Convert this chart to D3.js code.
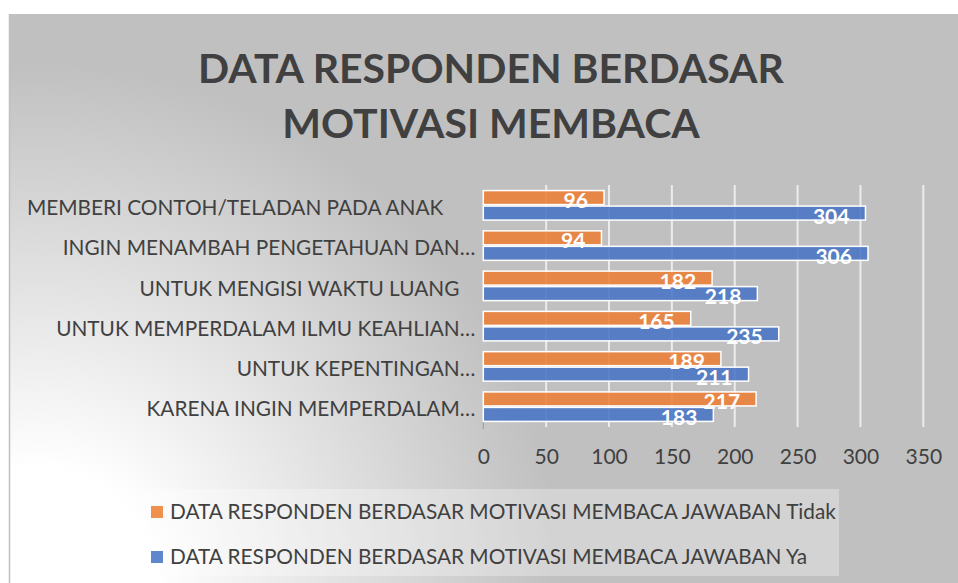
<!DOCTYPE html>
<html>
<head>
<meta charset="utf-8">
<script src="https://cdnjs.cloudflare.com/ajax/libs/d3/7.8.5/d3.min.js"></script>
<style>
  body { margin: 0; background: #fff; }
  svg { display: block; font-family: Lato, "Open Sans", sans-serif; }
</style>
</head>
<body>
<script>
// chart data
const categories = [
  'MEMBERI CONTOH/TELADAN PADA ANAK      ',
  'INGIN MENAMBAH PENGETAHUAN DAN\u2026',
  'UNTUK MENGISI WAKTU LUANG   ',
  'UNTUK MEMPERDALAM ILMU KEAHLIAN\u2026',
  'UNTUK KEPENTINGAN\u2026',
  'KARENA INGIN MEMPERDALAM\u2026'
];
const seriesNames = ['DATA RESPONDEN BERDASAR MOTIVASI MEMBACA JAWABAN Tidak',
                     'DATA RESPONDEN BERDASAR MOTIVASI MEMBACA JAWABAN Ya'];
const tidak = [96, 94, 182, 165, 189, 217];
const ya = [304, 306, 218, 235, 211, 183];
const xTicks = [0, 50, 100, 150, 200, 250, 300, 350];
const titleLines = ['DATA RESPONDEN BERDASAR', 'MOTIVASI MEMBACA'];
const colors = ['#ED7D31', '#4472C4'];

const w = 958, h = 583;
const svg = d3.select('body').append('svg').attr('width', w).attr('height', h);

// background like excel's path gradient
const defs = svg.append('defs');
const grad = defs.append('radialGradient').attr('id', 'bg')
  .attr('gradientUnits', 'userSpaceOnUse')
  .attr('cx', 40).attr('cy', 583).attr('r', 520);
grad.append('stop').attr('offset', 0).attr('stop-color', '#ffffff');
grad.append('stop').attr('offset', 0.22).attr('stop-color', '#ffffff');
grad.append('stop').attr('offset', 1).attr('stop-color', '#c0c0c0');

svg.append('rect').attr('x', 9).attr('y', 14).attr('width', w - 9).attr('height', h - 14)
  .attr('fill', 'url(#bg)');
svg.append('line').attr('x1', 9.5).attr('x2', 9.5).attr('y1', 14).attr('y2', h)
  .attr('stroke', '#bfbfbf').attr('stroke-width', 1.5);

// title
svg.append('g').selectAll('text').data(titleLines).enter().append('text')
  .attr('x', 491).attr('y', (d, i) => 83 + i * 55)
  .attr('text-anchor', 'middle')
  .attr('font-size', 41).attr('font-weight', 'bold').attr('fill', '#404040')
  .text(d => d);

// scales
const x = d3.scaleLinear().domain([0, 350]).range([483.3, 923.3]);
const y = d3.scaleBand().domain(categories).range([185, 427]).paddingInner(0.23).paddingOuter(0.12);
const ys = d3.scaleBand().domain([0, 1]).range([0, y.bandwidth()]);

// gridlines
svg.append('g').selectAll('line').data(xTicks.slice(1)).enter().append('line')
  .attr('x1', d => x(d)).attr('x2', d => x(d)).attr('y1', 185).attr('y2', 427)
  .attr('stroke', '#ececec').attr('stroke-width', 2);
svg.append('line').attr('x1', x(0)).attr('x2', x(0)).attr('y1', 422).attr('y2', 429)
  .attr('stroke', '#999').attr('stroke-width', 1);

// x axis
const xAxis = svg.append('g').attr('transform', 'translate(0,449)')
  .call(d3.axisBottom(x).tickValues(xTicks).tickSize(0).tickPadding(0));
xAxis.select('.domain').remove();
xAxis.selectAll('text').attr('font-size', 21).attr('fill', '#404040')
  .attr('font-family', 'Lato, sans-serif').attr('dy', '0.71em');

// y axis
const yAxis = svg.append('g').attr('transform', `translate(${x(0)},0)`)
  .call(d3.axisLeft(y).tickSize(0).tickPadding(8));
yAxis.select('.domain').remove();
yAxis.selectAll('text').attr('font-size', 20.8).attr('fill', '#404040')
  .attr('font-family', 'Lato, sans-serif').attr('dy', '0.47em')
  .style('white-space', 'pre');

// bars
const rows = categories.map((c, i) => ({ c, vals: [tidak[i], ya[i]] }));
const grp = svg.append('g').selectAll('g').data(rows).enter().append('g')
  .attr('transform', d => `translate(0,${y(d.c)})`);
grp.selectAll('rect').data(d => d.vals).enter().append('rect')
  .attr('x', x(0)).attr('y', (d, i) => ys(i) + 0.75)
  .attr('width', d => x(d) - x(0)).attr('height', ys.bandwidth() - 1.5)
  .attr('fill', (d, i) => colors[i]).attr('fill-opacity', 0.85)
  .attr('stroke', '#fff').attr('stroke-width', 1.5);
grp.selectAll('text').data(d => d.vals).enter().append('text')
  .attr('x', d => x(d) - 16).attr('y', (d, i) => ys(i) + ys.bandwidth() / 2 + 10.5)
  .attr('text-anchor', 'end').attr('font-size', 21).attr('font-weight', 'bold')
  .attr('fill', '#fff').text(d => d);

// legend
const leg = svg.append('g');
leg.append('rect').attr('x', 142).attr('y', 489).attr('width', 697).attr('height', 87)
  .attr('fill', '#fff').attr('fill-opacity', 0.3);
const li = leg.selectAll('g').data(seriesNames).enter().append('g')
  .attr('transform', (d, i) => `translate(151,${506 + i * 45})`);
li.append('rect').attr('width', 12).attr('height', 12)
  .attr('fill', (d, i) => colors[i]).attr('fill-opacity', 0.85);
li.append('text').attr('x', 19).attr('y', 13).attr('font-size', 20.8).attr('fill', '#404040')
  .text(d => d);
</script>
</body>
</html>
